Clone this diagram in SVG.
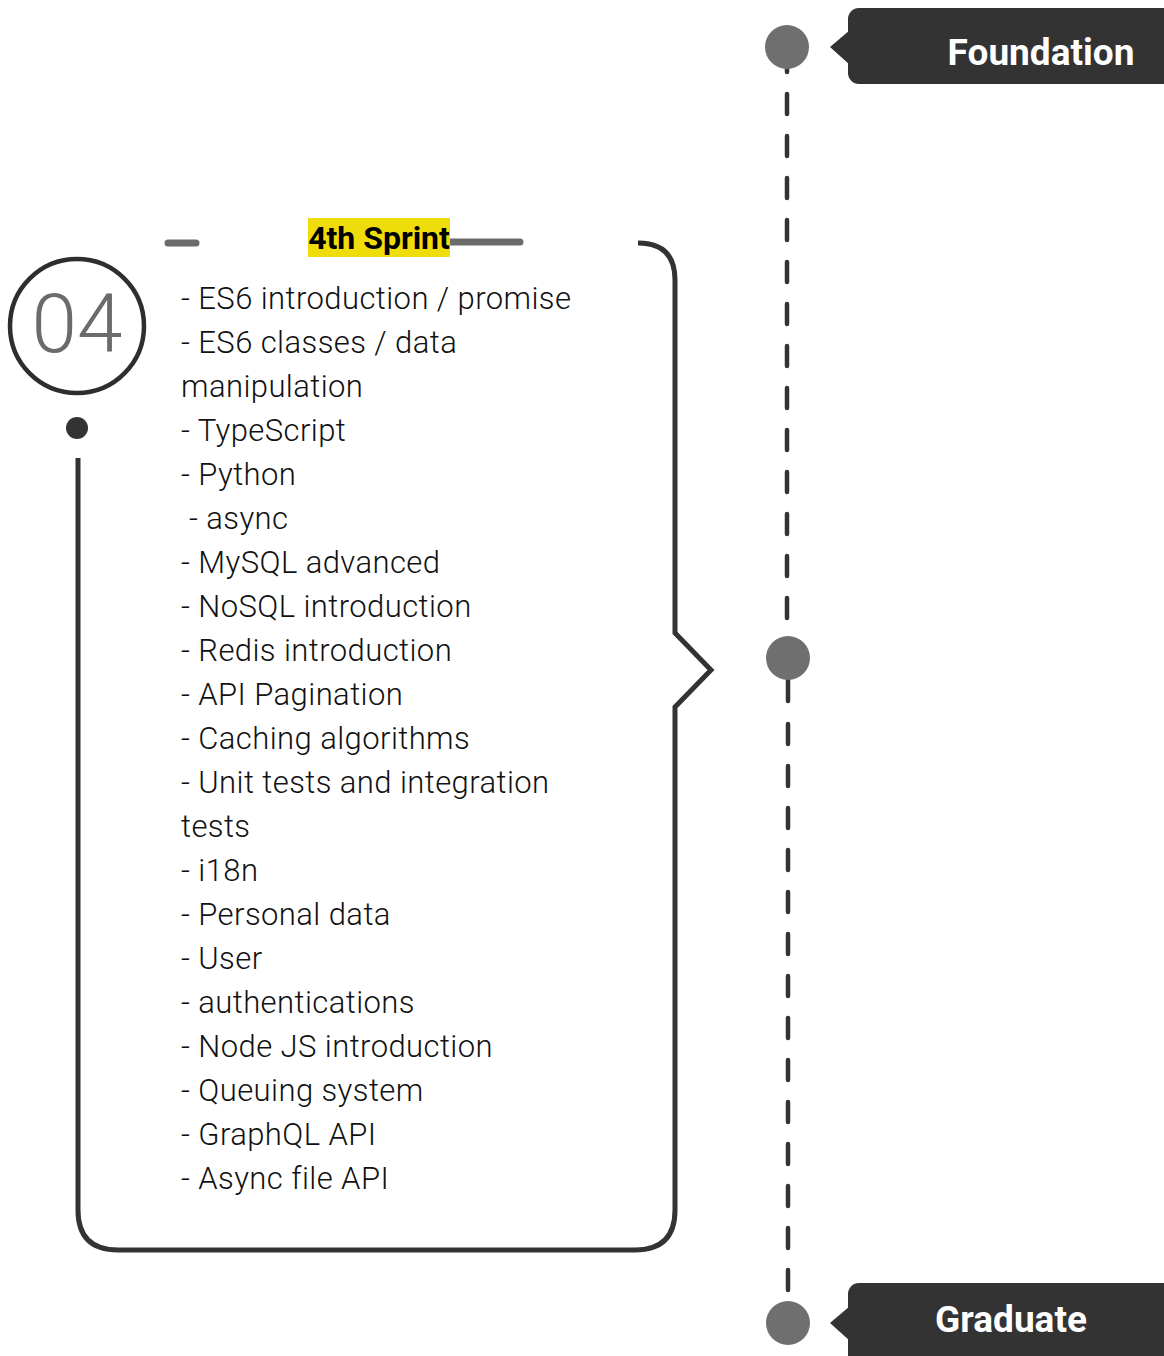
<svg xmlns="http://www.w3.org/2000/svg" width="1164" height="1356" viewBox="0 0 1164 1356">
  <style>
    .dot { fill: #6f6f6f; }
    .tag { fill: #333333; }
    .tag-text { font-family: Roboto, "Liberation Sans", sans-serif; font-weight: 700; font-size: 37px; fill: #ffffff; text-anchor: middle; }
    .rail { stroke: #333333; stroke-width: 4.5; fill: none; stroke-linecap: round; }
    .frame { stroke: #333333; stroke-width: 5; fill: none; stroke-linejoin: miter; }
    .bar { stroke: #6b6b6b; stroke-width: 7; stroke-linecap: round; }
    .item { font-family: Roboto, "Liberation Sans", sans-serif; font-weight: 300; font-size: 31px; letter-spacing: 0.42px; fill: #111111; }
  </style>
  <rect width="1164" height="1356" fill="#ffffff"/>

  <!-- timeline rail -->
  <g id="connectors">
    <line class="rail" x1="787" y1="62" x2="787" y2="72"/>
    <line class="rail" x1="787" y1="94" x2="787" y2="625" stroke-dasharray="20 22"/>
    <line class="rail" x1="788" y1="670" x2="788" y2="701"/>
    <line class="rail" x1="788" y1="724" x2="788" y2="1295" stroke-dasharray="20 22"/>
  </g>

  <!-- start milestone -->
  <g id="foundation">
    <circle class="dot" cx="787" cy="47" r="22"/>
    <rect class="tag" x="848" y="8" width="326" height="76" rx="11"/>
    <polygon class="tag" points="850,30 830,47 850,65"/>
    <text class="tag-text" x="1041" y="65">Foundation</text>
  </g>

  <!-- sprint milestone -->
  <g id="sprint-dot">
    <circle class="dot" cx="788" cy="658" r="22"/>
  </g>

  <!-- end milestone -->
  <g id="graduate">
    <circle class="dot" cx="788" cy="1323" r="22"/>
    <rect class="tag" x="848" y="1283" width="326" height="90" rx="11"/>
    <polygon class="tag" points="850,1306 830,1323 850,1341"/>
    <text class="tag-text" x="1011" y="1332">Graduate</text>
  </g>

  <!-- sprint 04 card -->
  <g id="sprint-04">
    <circle cx="77" cy="326" r="67" fill="none" stroke="#2e2e2e" stroke-width="4.5"/>
    <text x="77" y="352" text-anchor="middle" font-family="Roboto, 'Liberation Sans', sans-serif" font-weight="300" font-size="82" fill="#6b6b6b">04</text>
    <circle cx="77" cy="428" r="11" fill="#333333"/>
    <path class="frame" d="M78,458 L78,1210 Q78,1250 118,1250 L635,1250 Q675,1250 675,1210 L675,707 L711,670 L675,633 L675,280 Q675,243 638,243"/>
    <line class="bar" x1="168" y1="243" x2="196" y2="243"/>
    <line class="bar" x1="450" y1="242" x2="520" y2="242"/>
    <rect x="308" y="218" width="142" height="39" fill="#eedd0a"/>
    <text x="379" y="249" text-anchor="middle" font-family="Roboto, 'Liberation Sans', sans-serif" font-weight="700" font-size="32" fill="#000000">4th Sprint</text>
    <text class="item" x="181" y="309">- ES6 introduction / promise</text>
    <text class="item" x="181" y="353">- ES6 classes / data</text>
    <text class="item" x="181" y="397">manipulation</text>
    <text class="item" x="181" y="441">- TypeScript</text>
    <text class="item" x="181" y="485">- Python</text>
    <text class="item" x="189" y="529">- async</text>
    <text class="item" x="181" y="573">- MySQL advanced</text>
    <text class="item" x="181" y="617">- NoSQL introduction</text>
    <text class="item" x="181" y="661">- Redis introduction</text>
    <text class="item" x="181" y="705">- API Pagination</text>
    <text class="item" x="181" y="749">- Caching algorithms</text>
    <text class="item" x="181" y="793">- Unit tests and integration</text>
    <text class="item" x="181" y="837">tests</text>
    <text class="item" x="181" y="881">- i18n</text>
    <text class="item" x="181" y="925">- Personal data</text>
    <text class="item" x="181" y="969">- User</text>
    <text class="item" x="181" y="1013">- authentications</text>
    <text class="item" x="181" y="1057">- Node JS introduction</text>
    <text class="item" x="181" y="1101">- Queuing system</text>
    <text class="item" x="181" y="1145">- GraphQL API</text>
    <text class="item" x="181" y="1189">- Async file API</text>
  </g>
</svg>
